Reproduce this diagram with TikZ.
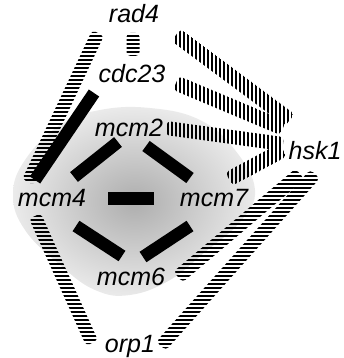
\documentclass[tikz,border=0pt]{standalone}
\usepackage{fontspec}
\setmainfont{Liberation Sans}
\usetikzlibrary{calc}

\tikzset{
  lbl/.style={anchor=base, inner sep=0pt, font=\fontsize{25}{25}\selectfont\itshape},
  solidbar/.style={line width=12.5pt, line cap=butt, black},
  stripe/.style={line width=2.4pt, black},
}

% band from #1 to #2 (coordinate names), half-width #3, filled with horizontal stripes
\newcommand\hstriped[3]{%
  \begin{scope}
    \clip[rounded corners=4pt] ($(#1)!#3!90:(#2)$) -- ($(#2)!#3!-90:(#1)$)
      -- ($(#2)!#3!90:(#1)$) -- ($(#1)!#3!-90:(#2)$) -- cycle;
    \foreach \k in {0,...,90} \draw[stripe] (0,4*\k) -- (343,4*\k);
  \end{scope}}
% same band, filled with vertical stripes
\newcommand\vstriped[3]{%
  \begin{scope}
    \clip[rounded corners=4pt] ($(#1)!#3!90:(#2)$) -- ($(#2)!#3!-90:(#1)$)
      -- ($(#2)!#3!90:(#1)$) -- ($(#1)!#3!-90:(#2)$) -- cycle;
    \foreach \k in {0,...,86} \draw[stripe] (4*\k,0) -- (4*\k,358);
  \end{scope}}

\begin{document}
\begin{tikzpicture}[x=1pt, y=-1pt]
\useasboundingbox (0,0) rectangle (343,358);

% shaded region behind the mcm complex
\shade[inner color=black!32, outer color=black!8]
  plot[smooth cycle, tension=0.7] coordinates {
    (13,195) (25,160) (60,125) (100,110) (150,108) (200,120) (235,150)
    (255,190) (240,222) (205,252) (170,280) (130,295) (95,290) (60,265) (25,230)};

% labels
\node[lbl] (rad4)  at (134,23)  {rad4};
\node[lbl] (cdc23) at (132,83)  {cdc23};
\node[lbl] (mcm2)  at (129,136) {mcm2};
\node[lbl] (hsk1)  at (315,160) {hsk1};
\node[lbl] (mcm4)  at (52,206)  {mcm4};
\node[lbl] (mcm7)  at (214,206) {mcm7};
\node[lbl] (mcm6)  at (131,285) {mcm6};
\node[lbl] (orp1)  at (130,352) {orp1};

% band end points, placed relative to their labels
\coordinate (r4m4a)  at ($(rad4.base)+(-36,10)$);
\coordinate (r4m4b)  at ($(mcm4.base)+(-24,-24)$);
\coordinate (r4c23a) at ($(rad4.base)+(-1,10)$);
\coordinate (r4c23b) at ($(cdc23.base)+(1,-27)$);
\coordinate (m4o1a)  at ($(mcm4.base)+(-17,10)$);
\coordinate (m4o1b)  at ($(orp1.base)+(-38,-9)$);
\coordinate (h1m6a)  at ($(hsk1.base)+(-15,14)$);
\coordinate (h1m6b)  at ($(mcm6.base)+(47,-8)$);
\coordinate (h1o1a)  at ($(hsk1.base)+(0,14)$);
\coordinate (h1o1b)  at ($(orp1.base)+(31,-6)$);

\coordinate (r4h1a)  at ($(rad4.base)+(42,12)$);
\coordinate (r4h1b)  at ($(hsk1.base)+(-25,-40)$);
\coordinate (c23h1a) at ($(cdc23.base)+(44,0)$);
\coordinate (c23h1b) at ($(hsk1.base)+(-32,-32)$);
\coordinate (m2h1a)  at ($(mcm2.base)+(37,-8)$);
\coordinate (m2h1b)  at ($(hsk1.base)+(-32,-16)$);
\coordinate (m7h1a)  at ($(mcm7.base)+(15,-27)$);
\coordinate (m7h1b)  at ($(hsk1.base)+(-32,-10)$);

% horizontally striped links
\hstriped{r4m4a}{r4m4b}{6.5pt}
\hstriped{r4c23a}{r4c23b}{6.5pt}
\hstriped{m4o1a}{m4o1b}{6.5pt}
\hstriped{h1m6a}{h1m6b}{7pt}
\hstriped{h1o1a}{h1o1b}{6.5pt}

% vertically striped links into hsk1
\vstriped{r4h1a}{r4h1b}{7.5pt}
\vstriped{c23h1a}{c23h1b}{7.5pt}
\vstriped{m2h1a}{m2h1b}{7pt}
\vstriped{m7h1a}{m7h1b}{7.5pt}

% solid links
\draw[solidbar] ($(mcm2.base)+(-11,6)$) -- ($(mcm4.base)+(22,-29)$);
\draw[solidbar] ($(mcm2.base)+(17,10)$) -- ($(mcm7.base)+(-24,-28)$);
\draw[solidbar, line width=13pt] ($(mcm4.base)+(56,-7.5)$) -- ($(mcm7.base)+(-60,-7.5)$);
\draw[solidbar] ($(mcm4.base)+(24,20)$) -- ($(mcm6.base)+(-9,-29)$);
\draw[solidbar] ($(mcm7.base)+(-24,20)$) -- ($(mcm6.base)+(12,-28)$);
\draw[solidbar] ($(cdc23.base)+(-38,10)$) -- ($(mcm4.base)+(-17,-26)$);
\end{tikzpicture}
\end{document}
